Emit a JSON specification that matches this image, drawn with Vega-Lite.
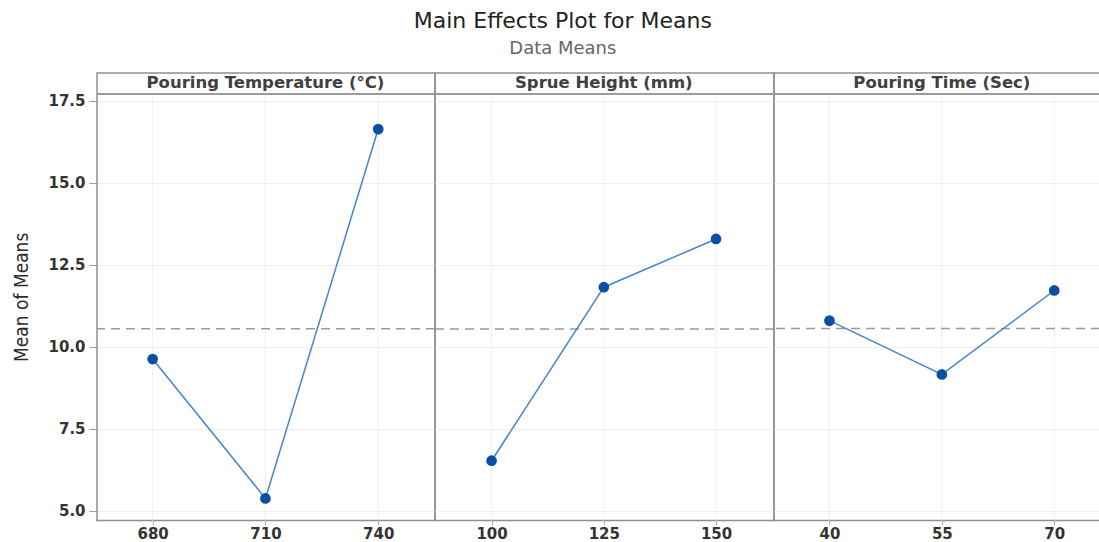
{
  "$schema": "https://vega.github.io/schema/vega-lite/v6.json",
  "background": "white",
  "padding": {"left": 12, "top": 10, "right": 0, "bottom": 3},
  "title": {
    "text": "Main Effects Plot for Means",
    "subtitle": "Data Means",
    "font": "DejaVu Sans",
    "fontSize": 22,
    "fontWeight": "normal",
    "color": "#222222",
    "subtitleFont": "DejaVu Sans",
    "subtitleFontSize": 18,
    "subtitleColor": "#666666",
    "subtitlePadding": 7,
    "anchor": "middle",
    "dx": 6,
    "offset": 13
  },
  "datasets": {
    "effects": [
      {"factor": "Pouring Temperature (°C)", "level": 680, "mean": 9.62},
      {"factor": "Pouring Temperature (°C)", "level": 710, "mean": 5.37},
      {"factor": "Pouring Temperature (°C)", "level": 740, "mean": 16.63},
      {"factor": "Sprue Height (mm)", "level": 100, "mean": 6.52},
      {"factor": "Sprue Height (mm)", "level": 125, "mean": 11.81},
      {"factor": "Sprue Height (mm)", "level": 150, "mean": 13.28},
      {"factor": "Pouring Time (Sec)", "level": 40, "mean": 10.79},
      {"factor": "Pouring Time (Sec)", "level": 55, "mean": 9.15},
      {"factor": "Pouring Time (Sec)", "level": 70, "mean": 11.71}
    ]
  },
  "spacing": 0,
  "bounds": "flush",
  "hconcat": [
    {
      "width": 338,
      "height": 447.6,
      "data": {"name": "effects"},
      "transform": [{"filter": "datum.factor === 'Pouring Temperature (°C)'"}],
      "encoding": {
        "x": {"field": "level", "type": "quantitative", "scale": {"domain": [665.2, 755.1], "nice": false, "zero": false},
          "axis": {"values": [680, 710, 740], "grid": false, "domain": false, "title": null, "tickSize": 4, "tickColor": "#aaaaaa", "labelFont": "DejaVu Sans", "labelFontSize": 15, "labelFontWeight": "bold", "labelColor": "#333333", "labelPadding": 2}},
        "y": {"field": "mean", "type": "quantitative", "scale": {"domain": [4.695, 18.34], "nice": false, "zero": false},
          "axis": {"values": [5, 7.5, 10, 12.5, 15, 17.5], "format": ".1f", "grid": true, "gridColor": "#f0f0f0", "domain": false, "tickSize": 8, "tickColor": "#999999", "labelFont": "DejaVu Sans", "labelFontSize": 15, "labelFontWeight": "bold", "labelColor": "#333333", "labelPadding": 4, "title": "Mean of Means", "titleFont": "DejaVu Sans Condensed", "titleFontSize": 19, "titleFontWeight": "normal", "titleColor": "#2b2b2b", "titlePadding": 16}}
      },
      "layer": [
        {"mark": {"type": "rule", "color": "#efefef", "strokeWidth": 1}, "encoding": {"y": {"datum": 4.695}, "y2": {"datum": 17.7}}},
        {"mark": {"type": "rule", "color": "#9a9a9a", "strokeDash": [9, 6], "strokeWidth": 1.5}, "encoding": {"x": null, "y": {"aggregate": "mean", "field": "mean", "type": "quantitative"}}},
        {"mark": {"type": "line", "color": "#4585cc", "strokeWidth": 1.5}},
        {"mark": {"type": "point", "filled": true, "shape": "circle", "color": "#0a4fa3", "size": 115, "opacity": 1}},
        {"mark": {"type": "rule", "color": "#9a9a9a", "strokeWidth": 1.5}, "encoding": {"x": null, "y": {"datum": 17.7}}},
        {"transform": [{"filter": "datum.level === 710"}], "mark": {"type": "text", "font": "DejaVu Sans", "fontSize": 16.5, "fontWeight": "bold", "color": "#404040", "baseline": "middle", "align": "center"}, "encoding": {"y": {"datum": 18.02}, "text": {"field": "factor"}}}
      ]
    },
    {
      "width": 339,
      "height": 447.6,
      "data": {"name": "effects"},
      "transform": [{"filter": "datum.factor === 'Sprue Height (mm)'"}],
      "encoding": {
        "x": {"field": "level", "type": "quantitative", "scale": {"domain": [87.4, 162.9], "nice": false, "zero": false},
          "axis": {"values": [100, 125, 150], "grid": false, "domain": false, "title": null, "tickSize": 4, "tickColor": "#aaaaaa", "labelFont": "DejaVu Sans", "labelFontSize": 15, "labelFontWeight": "bold", "labelColor": "#333333", "labelPadding": 2}},
        "y": {"field": "mean", "type": "quantitative", "scale": {"domain": [4.695, 18.34], "nice": false, "zero": false},
          "axis": {"values": [5, 7.5, 10, 12.5, 15, 17.5], "grid": true, "gridColor": "#f0f0f0", "domain": false, "ticks": false, "labels": false, "title": null}}
      },
      "layer": [
        {"mark": {"type": "rule", "color": "#efefef", "strokeWidth": 1}, "encoding": {"y": {"datum": 4.695}, "y2": {"datum": 17.7}}},
        {"mark": {"type": "rule", "color": "#9a9a9a", "strokeDash": [9, 6], "strokeWidth": 1.5}, "encoding": {"x": null, "y": {"aggregate": "mean", "field": "mean", "type": "quantitative"}}},
        {"mark": {"type": "line", "color": "#4585cc", "strokeWidth": 1.5}},
        {"mark": {"type": "point", "filled": true, "shape": "circle", "color": "#0a4fa3", "size": 115, "opacity": 1}},
        {"mark": {"type": "rule", "color": "#9a9a9a", "strokeWidth": 1.5}, "encoding": {"x": null, "y": {"datum": 17.7}}},
        {"transform": [{"filter": "datum.level === 125"}], "mark": {"type": "text", "font": "DejaVu Sans", "fontSize": 16.5, "fontWeight": "bold", "color": "#404040", "baseline": "middle", "align": "center"}, "encoding": {"y": {"datum": 18.02}, "text": {"field": "factor"}}}
      ]
    },
    {
      "width": 326,
      "height": 447.6,
      "data": {"name": "effects"},
      "transform": [{"filter": "datum.factor === 'Pouring Time (Sec)'"}],
      "encoding": {
        "x": {"field": "level", "type": "quantitative", "scale": {"domain": [32.6, 76.1], "nice": false, "zero": false},
          "axis": {"values": [40, 55, 70], "grid": false, "domain": false, "title": null, "tickSize": 4, "tickColor": "#aaaaaa", "labelFont": "DejaVu Sans", "labelFontSize": 15, "labelFontWeight": "bold", "labelColor": "#333333", "labelPadding": 2}},
        "y": {"field": "mean", "type": "quantitative", "scale": {"domain": [4.695, 18.34], "nice": false, "zero": false},
          "axis": {"values": [5, 7.5, 10, 12.5, 15, 17.5], "grid": true, "gridColor": "#f0f0f0", "domain": false, "ticks": false, "labels": false, "title": null}}
      },
      "layer": [
        {"mark": {"type": "rule", "color": "#efefef", "strokeWidth": 1}, "encoding": {"y": {"datum": 4.695}, "y2": {"datum": 17.7}}},
        {"mark": {"type": "rule", "color": "#9a9a9a", "strokeDash": [9, 6], "strokeWidth": 1.5}, "encoding": {"x": null, "y": {"aggregate": "mean", "field": "mean", "type": "quantitative"}}},
        {"mark": {"type": "line", "color": "#4585cc", "strokeWidth": 1.5}},
        {"mark": {"type": "point", "filled": true, "shape": "circle", "color": "#0a4fa3", "size": 115, "opacity": 1}},
        {"mark": {"type": "rule", "color": "#9a9a9a", "strokeWidth": 1.5}, "encoding": {"x": null, "y": {"datum": 17.7}}},
        {"transform": [{"filter": "datum.level === 55"}], "mark": {"type": "text", "font": "DejaVu Sans", "fontSize": 16.5, "fontWeight": "bold", "color": "#404040", "baseline": "middle", "align": "center"}, "encoding": {"y": {"datum": 18.02}, "text": {"field": "factor"}}}
      ]
    }
  ],
  "config": {
    "view": {"stroke": "#8f8f8f", "strokeWidth": 1.5}
  }
}
